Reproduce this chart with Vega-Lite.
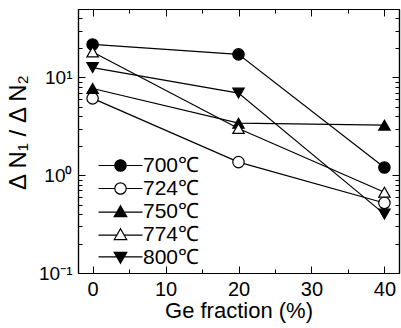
{
  "$schema": "https://vega.github.io/schema/vega-lite/v6.json",
  "width": 321,
  "height": 264,
  "autosize": {"type": "none"},
  "padding": {"left": 78, "top": 9, "right": 2, "bottom": 55},
  "background": "white",
  "config": {
    "font": "Liberation Sans",
    "view": {"stroke": null},
    "axis": {
      "grid": false,
      "tickColor": "black",
      "domainColor": "black",
      "labelColor": "black",
      "titleColor": "black",
      "tickWidth": 1,
      "domainWidth": 1.2,
      "labelFontWeight": "normal",
      "titleFontWeight": "normal"
    },
    "legend": {"padding": 0}
  },
  "data": {
    "values": [
      {"temp": "700℃", "ge": 0, "ratio": 21.7},
      {"temp": "700℃", "ge": 20, "ratio": 17.2},
      {"temp": "700℃", "ge": 40, "ratio": 1.2},
      {"temp": "724℃", "ge": 0, "ratio": 6.1},
      {"temp": "724℃", "ge": 20, "ratio": 1.36},
      {"temp": "724℃", "ge": 40, "ratio": 0.52},
      {"temp": "750℃", "ge": 0, "ratio": 7.7},
      {"temp": "750℃", "ge": 20, "ratio": 3.4},
      {"temp": "750℃", "ge": 40, "ratio": 3.25},
      {"temp": "774℃", "ge": 0, "ratio": 18.2},
      {"temp": "774℃", "ge": 20, "ratio": 3.0},
      {"temp": "774℃", "ge": 40, "ratio": 0.67},
      {"temp": "800℃", "ge": 0, "ratio": 12.6},
      {"temp": "800℃", "ge": 20, "ratio": 6.9},
      {"temp": "800℃", "ge": 40, "ratio": 0.4}
    ]
  },
  "layer": [
    {
      "mark": {"type": "line", "color": "black", "strokeWidth": 1.2},
      "encoding": {
        "x": {"field": "ge", "type": "quantitative", "scale": {"domain": [-2, 42], "nice": false, "zero": false},
          "axis": {"orient": "bottom", "values": [0, 10, 20, 30, 40], "tickSize": -7, "labelPadding": 13, "labelFontSize": 20, "title": "Ge fraction (%)", "titleFontSize": 22, "titleY": 44, "titleBaseline": "alphabetic"}},
        "y": {"field": "ratio", "type": "quantitative", "scale": {"type": "log", "domain": [0.1, 50], "nice": false},
          "axis": {"orient": "left", "values": [0.1, 1, 10], "tickSize": -7, "labelPadding": 13, "labelFontSize": 19, "labelExpr": "datum.value < 0.5 ? '10⁻¹' : datum.value < 5 ? '10⁰' : '10¹'", "title": "Δ N₁ / Δ N₂", "titleFontSize": 24, "titleX": -60, "titleY": 123, "titleAngle": -90, "titleBaseline": "middle", "titleAlign": "center"}},
        "detail": {"field": "temp", "type": "nominal"}
      }
    },
    {
      "mark": {"type": "point", "filled": true, "stroke": "black", "strokeWidth": 1.2, "size": 130, "opacity": 1},
      "encoding": {
        "x": {"field": "ge", "type": "quantitative", "scale": {"domain": [-2, 42], "nice": false, "zero": false},
          "axis": {"orient": "top", "values": [0, 10, 20, 30, 40], "tickSize": -7, "labels": false, "title": null}},
        "y": {"field": "ratio", "type": "quantitative", "scale": {"type": "log", "domain": [0.1, 50], "nice": false},
          "axis": {"orient": "right", "values": [0.1, 1, 10], "tickSize": -7, "labels": false, "title": null}},
        "shape": {"field": "temp", "type": "nominal", "scale": {"domain": ["700℃", "724℃", "750℃", "774℃", "800℃"], "range": ["circle", "circle", "triangle-up", "triangle-up", "triangle-down"]}, "legend": null},
        "fill": {"field": "temp", "type": "nominal", "scale": {"domain": ["700℃", "724℃", "750℃", "774℃", "800℃"], "range": ["black", "white", "black", "white", "black"]}, "legend": null}
      }
    },
    {
      "mark": {"type": "point", "filled": true, "stroke": "black", "size": 130, "opacity": 0},
      "encoding": {
        "x": {"field": "ge", "type": "quantitative", "scale": {"domain": [-2, 42], "nice": false, "zero": false},
          "axis": {"orient": "bottom", "values": [5, 15, 25, 35], "tickSize": -4, "labels": false, "title": null}},
        "y": {"field": "ratio", "type": "quantitative", "scale": {"type": "log", "domain": [0.1, 50], "nice": false},
          "axis": {"orient": "left", "values": [0.2, 0.3, 0.4, 0.5, 0.6, 0.7, 0.8, 0.9, 2, 3, 4, 5, 6, 7, 8, 9, 20, 30, 40], "tickSize": -4, "labels": false, "title": null}},
        "shape": {"field": "temp", "type": "nominal",
          "scale": {"domain": ["700℃", "724℃", "750℃", "774℃", "800℃"],
            "range": [
              "M-3.86,0H-1M1,0H3.86M1,0A1,1,0,1,0,-1,0A1,1,0,1,0,1,0Z",
              "M-3.86,0H-1M1,0H3.86M1,0A1,1,0,1,0,-1,0A1,1,0,1,0,1,0Z",
              "M-3.86,0.1H-0.55M0.55,0.1H3.86M0,-1L1.1,0.9L-1.1,0.9Z",
              "M-3.86,0.1H-0.55M0.55,0.1H3.86M0,-1L1.1,0.9L-1.1,0.9Z",
              "M-3.86,-0.1H-0.55M0.55,-0.1H3.86M0,1L1.1,-0.9L-1.1,-0.9Z"
            ]},
          "legend": {"orient": "none", "legendX": 32, "legendY": 146, "title": null, "labelFontSize": 21, "labelColor": "black", "symbolSize": 130, "labelOffset": 12, "rowPadding": 1,
            "symbolFillColor": "black", "symbolStrokeColor": "black", "symbolStrokeWidth": 1.2, "symbolOpacity": 1}},
        "fill": {"field": "temp", "type": "nominal", "scale": {"domain": ["700℃", "724℃", "750℃", "774℃", "800℃"], "range": ["black", "white", "black", "white", "black"]},
          "legend": {"orient": "none", "legendX": 32, "legendY": 146, "title": null, "labelFontSize": 21, "labelColor": "black", "symbolSize": 130, "labelOffset": 12, "rowPadding": 1,
            "symbolStrokeColor": "black", "symbolStrokeWidth": 1.2, "symbolOpacity": 1}}
      }
    },
    {
      "mark": {"type": "point", "opacity": 0},
      "encoding": {
        "x": {"field": "ge", "type": "quantitative", "scale": {"domain": [-2, 42], "nice": false, "zero": false},
          "axis": {"orient": "top", "values": [5, 15, 25, 35], "tickSize": -4, "labels": false, "title": null}},
        "y": {"field": "ratio", "type": "quantitative", "scale": {"type": "log", "domain": [0.1, 50], "nice": false},
          "axis": {"orient": "right", "values": [0.2, 0.3, 0.4, 0.5, 0.6, 0.7, 0.8, 0.9, 2, 3, 4, 5, 6, 7, 8, 9, 20, 30, 40], "tickSize": -4, "labels": false, "title": null}}
      }
    }
  ],
  "resolve": {"axis": {"x": "independent", "y": "independent"}, "scale": {"shape": "independent", "fill": "independent"}}
}
